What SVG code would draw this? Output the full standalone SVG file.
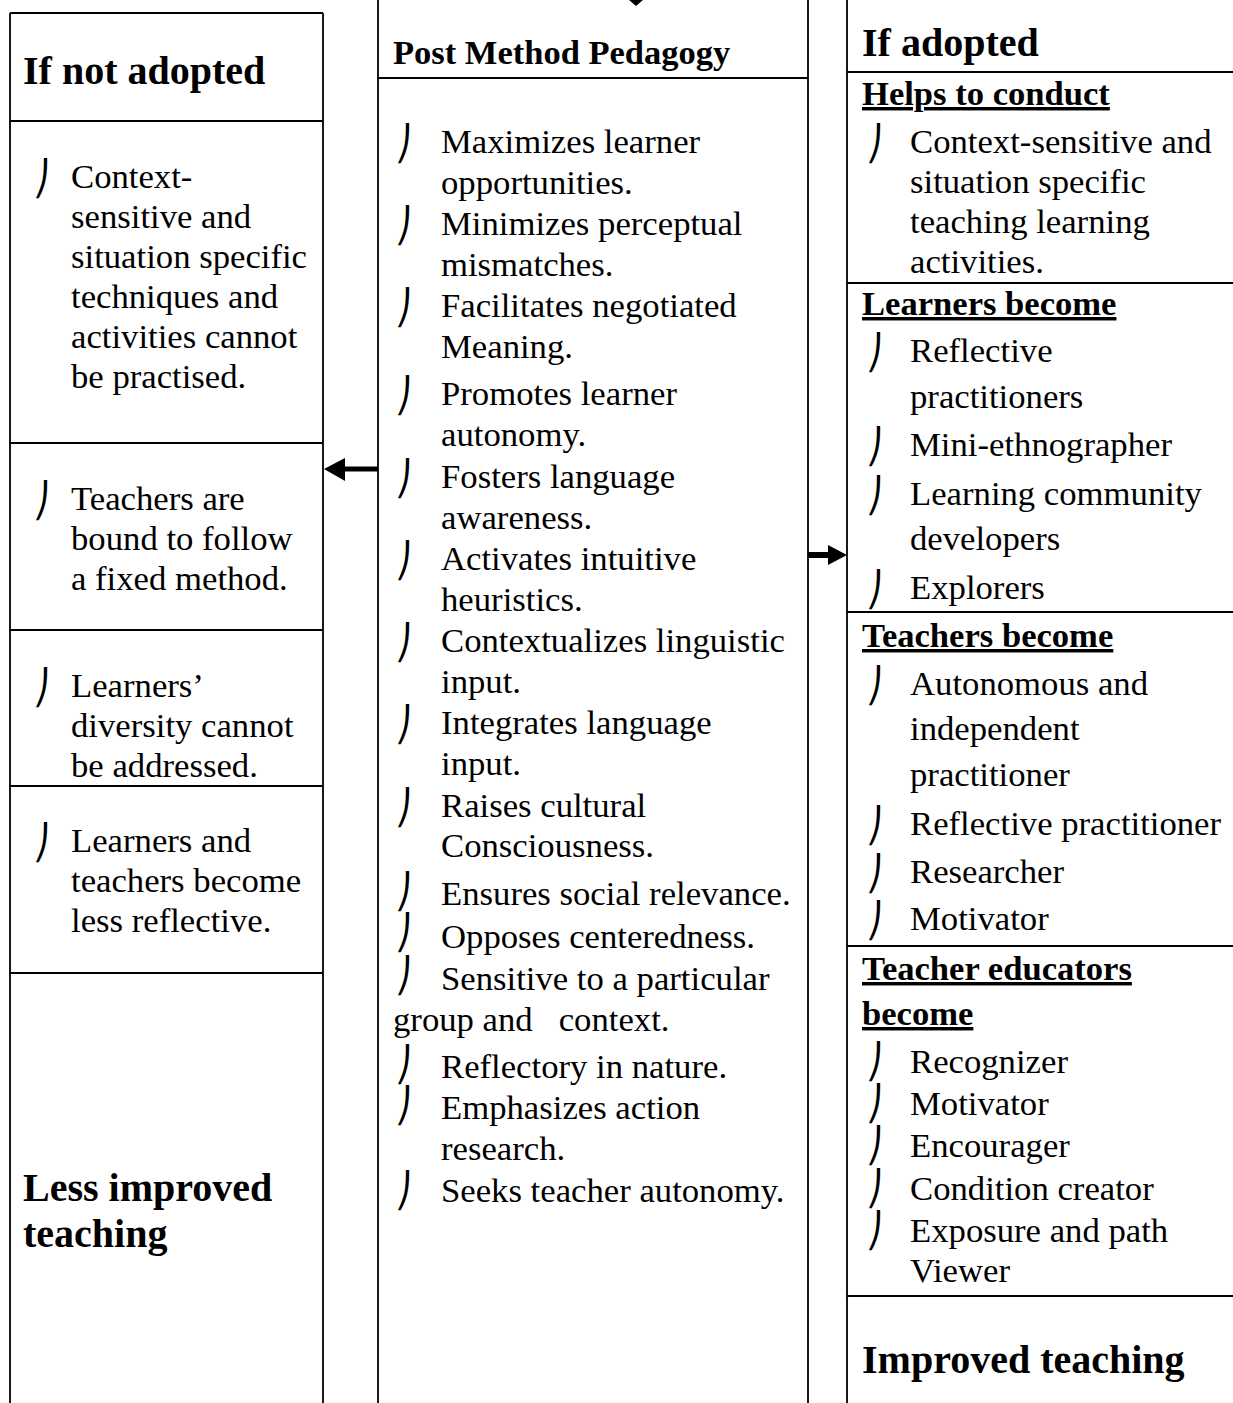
<svg xmlns="http://www.w3.org/2000/svg" width="1233" height="1403" viewBox="0 0 1233 1403">
  <style>
    text { font-family: "Liberation Serif", "Times New Roman", serif; fill: #000; }
    .t { font-size: 34.7px; }
    .h { font-size: 40px; font-weight: bold; }
    .p { font-size: 34.5px; font-weight: bold; }
    .s { font-size: 34.6px; font-weight: bold; text-decoration: underline; }
    .b { font-family: "DejaVu Serif", "DejaVu Sans", serif; font-size: 34px; }
    .ln { stroke: #000; stroke-width: 1.8; fill: none; }
  </style>
  <rect width="1233" height="1403" fill="#fff"/>

  <!-- Left column: consequences when not adopted -->
  <g id="not-adopted">
    <path class="ln" d="M10,13 H323 M10,13 V1403 M323,13 V1403 M10,121 H323 M10,443 H323 M10,630 H323 M10,786 H323 M10,973 H323"/>
    <text class="h" x="23" y="84">If not adopted</text>
    <text class="b" x="33" y="190">⎠</text>
    <text class="t" x="71" y="188">Context-</text>
    <text class="t" x="71" y="228">sensitive and</text>
    <text class="t" x="71" y="268">situation specific</text>
    <text class="t" x="71" y="308">techniques and</text>
    <text class="t" x="71" y="348">activities cannot</text>
    <text class="t" x="71" y="388">be practised.</text>
    <text class="b" x="33" y="512">⎠</text>
    <text class="t" x="71" y="510">Teachers are</text>
    <text class="t" x="71" y="550">bound to follow</text>
    <text class="t" x="71" y="590">a fixed method.</text>
    <text class="b" x="33" y="699">⎠</text>
    <text class="t" x="71" y="697">Learners’</text>
    <text class="t" x="71" y="737">diversity cannot</text>
    <text class="t" x="71" y="777">be addressed.</text>
    <text class="b" x="33" y="854">⎠</text>
    <text class="t" x="71" y="852">Learners and</text>
    <text class="t" x="71" y="892">teachers become</text>
    <text class="t" x="71" y="932">less reflective.</text>
    <text class="h" x="23" y="1201">Less improved</text>
    <text class="h" x="23" y="1247">teaching</text>
  </g>

  <!-- Centre column: Post Method Pedagogy -->
  <g id="post-method">
    <path class="ln" d="M378,0 V1403 M808,0 V1403 M378,78 H808"/>
    <text class="p" x="393" y="64">Post Method Pedagogy</text>
    <text class="b" x="395" y="155">⎠</text>
    <text class="t" x="441" y="153">Maximizes learner</text>
    <text class="t" x="441" y="194">opportunities.</text>
    <text class="b" x="395" y="237">⎠</text>
    <text class="t" x="441" y="235">Minimizes perceptual</text>
    <text class="t" x="441" y="276">mismatches.</text>
    <text class="b" x="395" y="319">⎠</text>
    <text class="t" x="441" y="317">Facilitates negotiated</text>
    <text class="t" x="441" y="358">Meaning.</text>
    <text class="b" x="395" y="407">⎠</text>
    <text class="t" x="441" y="405">Promotes learner</text>
    <text class="t" x="441" y="446">autonomy.</text>
    <text class="b" x="395" y="490">⎠</text>
    <text class="t" x="441" y="488">Fosters language</text>
    <text class="t" x="441" y="529">awareness.</text>
    <text class="b" x="395" y="572">⎠</text>
    <text class="t" x="441" y="570">Activates intuitive</text>
    <text class="t" x="441" y="611">heuristics.</text>
    <text class="b" x="395" y="654">⎠</text>
    <text class="t" x="441" y="652">Contextualizes linguistic</text>
    <text class="t" x="441" y="693">input.</text>
    <text class="b" x="395" y="736">⎠</text>
    <text class="t" x="441" y="734">Integrates language</text>
    <text class="t" x="441" y="775">input.</text>
    <text class="b" x="395" y="819">⎠</text>
    <text class="t" x="441" y="817">Raises cultural</text>
    <text class="t" x="441" y="857">Consciousness.</text>
    <text class="b" x="395" y="903">⎠</text>
    <text class="t" x="441" y="905">Ensures social relevance.</text>
    <text class="b" x="395" y="944">⎠</text>
    <text class="t" x="441" y="948">Opposes centeredness.</text>
    <text class="b" x="395" y="987">⎠</text>
    <text class="t" x="441" y="990">Sensitive to a particular</text>
    <text class="t" x="393" y="1031" style="white-space:pre">group and   context.</text>
    <text class="b" x="395" y="1076">⎠</text>
    <text class="t" x="441" y="1078">Reflectory in nature.</text>
    <text class="b" x="395" y="1117">⎠</text>
    <text class="t" x="441" y="1119">Emphasizes action</text>
    <text class="t" x="441" y="1160">research.</text>
    <text class="b" x="395" y="1202">⎠</text>
    <text class="t" x="441" y="1202">Seeks teacher autonomy.</text>
  </g>

  <!-- Right column: outcomes when adopted -->
  <g id="adopted">
    <path class="ln" d="M847,0 V1403 M847,72 H1233 M847,283 H1233 M847,612 H1233 M847,946 H1233 M847,1296 H1233"/>
    <text class="h" x="862" y="56">If adopted</text>
    <text class="s" x="862" y="105">Helps to conduct</text>
    <text class="b" x="866" y="155">⎠</text>
    <text class="t" x="910" y="153">Context-sensitive and</text>
    <text class="t" x="910" y="193">situation specific</text>
    <text class="t" x="910" y="233">teaching learning</text>
    <text class="t" x="910" y="273">activities.</text>
    <text class="s" x="862" y="315">Learners become</text>
    <text class="b" x="866" y="364">⎠</text>
    <text class="t" x="910" y="362">Reflective</text>
    <text class="t" x="910" y="408">practitioners</text>
    <text class="b" x="866" y="458">⎠</text>
    <text class="t" x="910" y="456">Mini-ethnographer</text>
    <text class="b" x="866" y="507">⎠</text>
    <text class="t" x="910" y="505">Learning community</text>
    <text class="t" x="910" y="550">developers</text>
    <text class="b" x="866" y="601">⎠</text>
    <text class="t" x="910" y="599">Explorers</text>
    <text class="s" x="862" y="647">Teachers become</text>
    <text class="b" x="866" y="697">⎠</text>
    <text class="t" x="910" y="695">Autonomous and</text>
    <text class="t" x="910" y="740">independent</text>
    <text class="t" x="910" y="786">practitioner</text>
    <text class="b" x="866" y="837">⎠</text>
    <text class="t" x="910" y="835">Reflective practitioner</text>
    <text class="b" x="866" y="885">⎠</text>
    <text class="t" x="910" y="883">Researcher</text>
    <text class="b" x="866" y="932">⎠</text>
    <text class="t" x="910" y="930">Motivator</text>
    <text class="s" x="862" y="980">Teacher educators</text>
    <text class="s" x="862" y="1025">become</text>
    <text class="b" x="866" y="1073">⎠</text>
    <text class="t" x="910" y="1073">Recognizer</text>
    <text class="b" x="866" y="1115">⎠</text>
    <text class="t" x="910" y="1115">Motivator</text>
    <text class="b" x="866" y="1157">⎠</text>
    <text class="t" x="910" y="1157">Encourager</text>
    <text class="b" x="866" y="1200">⎠</text>
    <text class="t" x="910" y="1200">Condition creator</text>
    <text class="b" x="866" y="1242">⎠</text>
    <text class="t" x="910" y="1242">Exposure and path</text>
    <text class="t" x="910" y="1282">Viewer</text>
    <text class="h" x="862" y="1373">Improved teaching</text>
  </g>

  <!-- Connectors -->
  <g id="connectors">
    <polygon points="629,0 643,0 636,6" fill="#000"/>
    <line x1="378" y1="469" x2="343" y2="469" stroke="#000" stroke-width="5"/>
    <polygon points="345,458 345,481 324,469" fill="#000"/>
    <line x1="808" y1="555" x2="830" y2="555" stroke="#000" stroke-width="6"/>
    <polygon points="828,545 828,565 847,555" fill="#000"/>
  </g>
</svg>
